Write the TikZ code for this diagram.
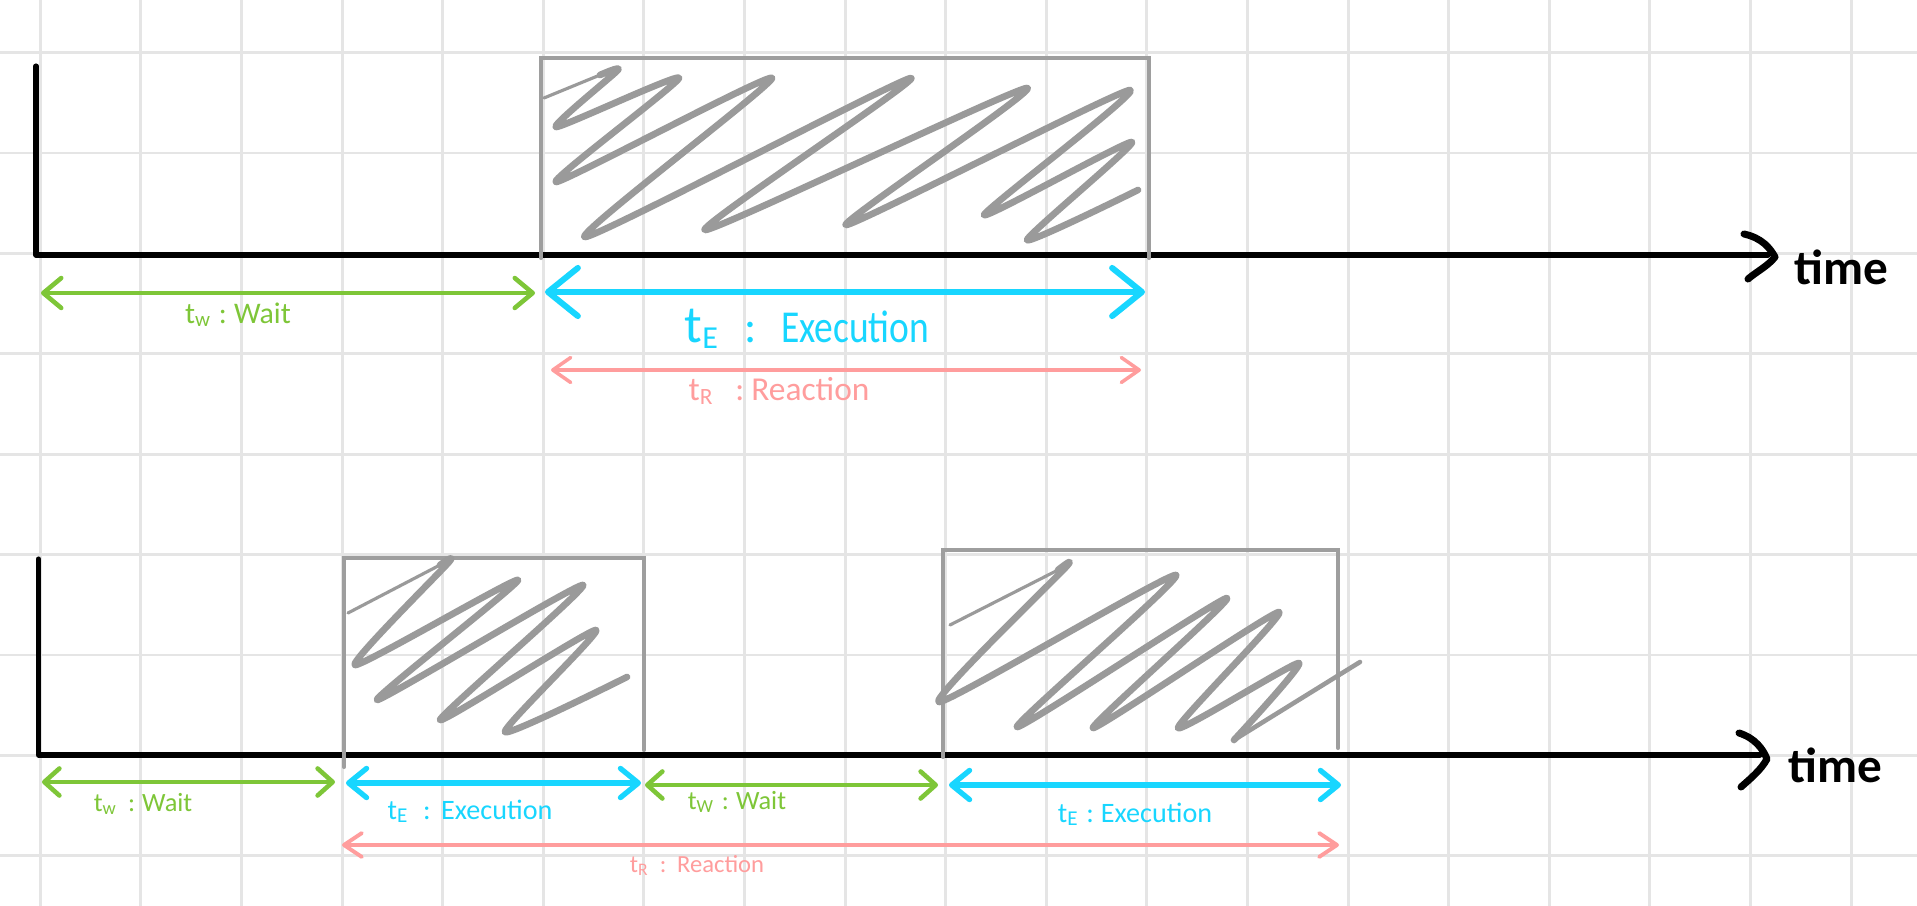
\documentclass[tikz,border=0pt]{standalone}
\usepackage{fontspec}
\setmainfont{Carlito}
\usetikzlibrary{arrows.meta}
\definecolor{gridc}{RGB}{229,229,229}
\definecolor{boxc}{RGB}{158,158,158}
\definecolor{scribc}{RGB}{154,154,154}
\definecolor{waitc}{RGB}{126,198,56}
\definecolor{execc}{RGB}{24,214,255}
\definecolor{reacc}{RGB}{255,157,157}
\tikzset{
  gridline/.style={gridc, line width=0.85pt},
  axisline/.style={black, line width=1.45pt, line cap=round, line join=round},
  timehead/.style={black, line width=2pt, line cap=round, line join=round},
  boxline/.style={boxc, line width=1.15pt, line cap=round, line join=miter},
  scrib/.style={scribc, line width=1.9pt, line cap=round, line join=round},
  scribthin/.style={scribc, line width=0.9pt, line cap=round},
  dbl/.style 2 args={<->, >={Straight Barb[length=#1,width=#2,round]}},
  waitarr/.style={waitc, line width=1.3pt, line cap=round},
  execarr/.style={execc, line width=1.5pt, line cap=round},
  reacarr/.style={reacc, line width=1.0pt, line cap=round},
  lbl/.style={inner sep=0pt, anchor=base},
  timelbl/.style={inner sep=0pt, anchor=base west, font=\fontsize{14}{16}\selectfont\bfseries},
}
\begin{document}
\begin{tikzpicture}[x=0.01cm,y=-0.01cm]
\useasboundingbox[fill=white] (0,0) rectangle (1917,906);
% grid
\foreach \k in {0,...,18} \draw[gridline] ({40.3+\k*100.6},0) -- ({40.3+\k*100.6},906);
\foreach \k in {0,...,8} \draw[gridline] (0,{52.6+\k*100.4}) -- (1917,{52.6+\k*100.4});

% ---------- top diagram ----------
\coordinate (a1top) at (36,66);
\coordinate (a1o) at (36,255);
\coordinate (a1end) at (1768,255);
\draw[axisline] (a1top) -- (a1o) -- (a1end);
\coordinate (h1a) at (1744,234);
\coordinate (h1b) at (1775,257);
\coordinate (h1c) at (1748,279);
\draw[timehead] (h1a) .. controls (1762,238) and (1770,248) .. (h1b) .. controls (1768,266) and (1756,272) .. (h1c);
\node[timelbl] (time1) at (1794,284) {time};

% box
\coordinate (b1bl) at (541,258);
\coordinate (b1tl) at (541,58);
\coordinate (b1tr) at (1149,58);
\coordinate (b1br) at (1149,258);
\draw[boxline] (b1bl) -- (b1tl) -- (b1tr) -- (b1br);
% scribble
\draw[scribthin] (544,98) -- (600,75);
\draw[scrib] plot[smooth, tension=0.35] coordinates {(600,75) (618,70) (556,127) (679,78) (556,182) (772,78) (585,237) (911,78) (705,230) (1027,88) (846,225) (1130,90) (984,215) (1132,142) (1027,240) (1138,190)};

% arrows
\coordinate (tw1a) at (41,293);
\coordinate (tw1b) at (535,293);
\draw[waitarr, dbl={5.1pt}{8.5pt}] (tw1a) -- (tw1b);
\node[lbl, waitc, font=\fontsize{8.5}{9}\selectfont] (twl) at (238,323) {t\textsubscript{w}\hspace{2pt}:\hspace{2pt}Wait};

\coordinate (te1a) at (545,292);
\coordinate (te1b) at (1145,292);
\draw[execarr, line width=1.7pt, dbl={8.5pt}{13.7pt}] (te1a) -- (te1b);
\node[lbl, execc, font=\fontsize{13}{15}\selectfont] (tel) at (807,342) {{\fontsize{15}{16}\selectfont t}\textsubscript{E}\hspace{7pt}:\hspace{7pt}\scalebox{0.82}[1]{Execution}};

\coordinate (tr1a) at (551,370);
\coordinate (tr1b) at (1141,370);
\draw[reacarr, dbl={5.1pt}{7.1pt}] (tr1a) -- (tr1b);
\node[lbl, reacc, font=\fontsize{9.5}{10}\selectfont] (trl) at (779,400) {t\textsubscript{R}\hspace{6pt}:\hspace{2pt}Reaction};

% ---------- bottom diagram ----------
\coordinate (a2top) at (38.4,559);
\coordinate (a2o) at (38.4,755);
\coordinate (a2end) at (1760,755);
\draw[axisline] (a2top) -- (a2o) -- (a2end);
\coordinate (h2a) at (1739,733);
\coordinate (h2b) at (1767,759);
\coordinate (h2c) at (1741,787);
\draw[timehead] (h2a) .. controls (1755,738) and (1763,749) .. (h2b) .. controls (1761,770) and (1750,779) .. (h2c);
\node[timelbl] (time2) at (1788,782) {time};

% box 1
\coordinate (b2bl) at (344,767);
\coordinate (b2tl) at (344,558);
\coordinate (b2tr) at (644,558);
\coordinate (b2br) at (644,750);
\draw[boxline] (b2bl) -- (b2tl) -- (b2tr) -- (b2br);
\draw[scribthin] (348,613) -- (440,565);
\draw[scrib] plot[smooth, tension=0.35] coordinates {(440,565) (449,562) (355,665) (518,580) (377,700) (583,585) (440,720) (596,630) (505,732) (627,677)};

% box 2
\coordinate (b3bl) at (943,757);
\coordinate (b3tl) at (943,550);
\coordinate (b3tr) at (1338,550);
\coordinate (b3br) at (1338,748);
\draw[boxline] (b3bl) -- (b3tl) -- (b3tr) -- (b3br);
\draw[scribthin] (950,625) -- (1058,570);
\draw[scrib] plot[smooth, tension=0.35] coordinates {(1058,570) (1066,567) (939,702) (1176,575) (1017,727) (1227,598) (1093,728) (1279,612) (1178,728) (1299,663) (1234,740)};
\draw[scribc, line width=1.3pt, line cap=round] (1234,740) -- (1360,662);

% arrows
\coordinate (tw2a) at (42,782);
\coordinate (tw2b) at (335,782);
\draw[waitarr, dbl={4.3pt}{7.7pt}] (tw2a) -- (tw2b);
\node[lbl, waitc, font=\fontsize{7.5}{8}\selectfont] (tw2l) at (143,811) {t\textsubscript{w}\hspace{3pt}:\hspace{2pt}Wait};

\coordinate (te2a) at (346,783);
\coordinate (te2b) at (641,783);
\draw[execarr, dbl={5.1pt}{8.3pt}] (te2a) -- (te2b);
\node[lbl, execc, font=\fontsize{8}{9}\selectfont] (te2l) at (470,819) {t\textsubscript{E}\hspace{4pt}:\hspace{3pt}Execution};

\coordinate (tw3a) at (645,785);
\coordinate (tw3b) at (938,785);
\draw[waitarr, dbl={4.3pt}{7.7pt}] (tw3a) -- (tw3b);
\node[lbl, waitc, font=\fontsize{7.5}{8}\selectfont] (tw3l) at (737,809) {t\textsubscript{W}\hspace{2pt}:\hspace{2pt}Wait};

\coordinate (te3a) at (949,785);
\coordinate (te3b) at (1341,785);
\draw[execarr, dbl={5.1pt}{8.3pt}] (te3a) -- (te3b);
\node[lbl, execc, font=\fontsize{8}{9}\selectfont] (te3l) at (1135,822) {t\textsubscript{E}\hspace{2pt}:\hspace{2pt}Execution};

\coordinate (tr2a) at (342,845);
\coordinate (tr2b) at (1339,845);
\draw[reacarr, line width=1.1pt, dbl={5.1pt}{6.8pt}] (tr2a) -- (tr2b);
\node[lbl, reacc, font=\fontsize{7}{8}\selectfont] (tr2l) at (697,872) {t\textsubscript{R}\hspace{3pt}:\hspace{3pt}Reaction};
\end{tikzpicture}
\end{document}
